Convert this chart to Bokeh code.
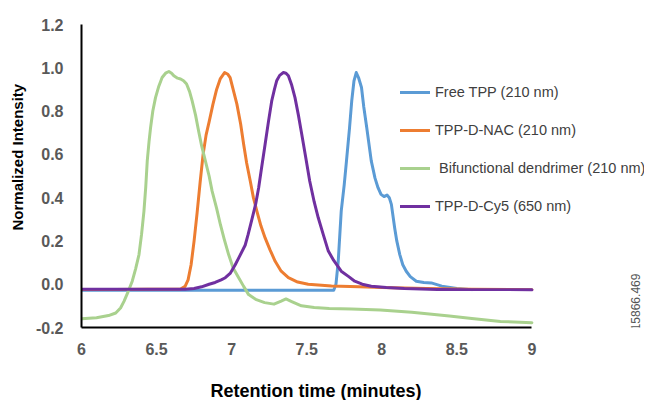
import math
from bokeh.plotting import figure
from bokeh.models import Range1d, FixedTicker, Legend, LegendItem, Label, Title
from bokeh.embed import file_html
from bokeh.resources import INLINE

# ---- data ----
tpp_x = [6.0, 7.68, 7.695, 7.71, 7.73, 7.75, 7.765, 7.785, 7.80, 7.815, 7.83, 7.845, 7.865, 7.88,
         7.90, 7.93, 7.955, 7.975, 7.995, 8.015, 8.035, 8.05, 8.064, 8.086, 8.10, 8.12, 8.14, 8.163,
         8.19, 8.23, 8.28, 8.33, 8.40, 8.50, 8.60]
tpp_y = [-0.028, -0.028, 0.0, 0.106, 0.338, 0.46, 0.57, 0.72, 0.847, 0.94, 0.978, 0.955, 0.909, 0.82,
         0.723, 0.57, 0.49, 0.446, 0.415, 0.405, 0.412, 0.40, 0.369, 0.26, 0.20, 0.137, 0.09, 0.06,
         0.035, 0.014, 0.008, 0.006, -0.009, -0.02, -0.025]

nac_x = [6.0, 6.66, 6.69, 6.71, 6.73, 6.75, 6.77, 6.79, 6.81, 6.83, 6.85, 6.875, 6.90, 6.925, 6.953,
         6.975, 6.99, 7.01, 7.035, 7.06, 7.08, 7.10, 7.124, 7.145, 7.168, 7.195, 7.223, 7.255, 7.29,
         7.33, 7.378, 7.44, 7.51, 7.665, 7.85, 8.0, 8.3, 8.6, 9.0]
nac_y = [-0.025, -0.022, -0.01, 0.02, 0.09, 0.20, 0.33, 0.47, 0.60, 0.69, 0.75, 0.83, 0.90, 0.95, 0.978,
         0.97, 0.955, 0.90, 0.832, 0.74, 0.647, 0.56, 0.477, 0.40, 0.338, 0.27, 0.214, 0.16, 0.106,
         0.06, 0.03, 0.01, 0.0, -0.008, -0.012, -0.015, -0.02, -0.023, -0.025]

den_x = [6.0, 6.1, 6.18, 6.228, 6.26, 6.283, 6.31, 6.338, 6.36, 6.383, 6.40, 6.416, 6.428, 6.438, 6.45,
         6.46, 6.475, 6.493, 6.515, 6.537, 6.56, 6.582, 6.60, 6.615, 6.64, 6.66, 6.68, 6.70, 6.72,
         6.737, 6.76, 6.78, 6.80, 6.825, 6.85, 6.87, 6.90, 6.925, 6.95, 6.98, 7.01, 7.047, 7.08,
         7.113, 7.16, 7.22, 7.282, 7.33, 7.362, 7.40, 7.465, 7.55, 7.65, 7.80, 7.99, 8.2, 8.45, 8.6,
         8.79, 9.0]
den_y = [-0.16, -0.155, -0.145, -0.133, -0.11, -0.079, -0.035, 0.014, 0.07, 0.137, 0.23, 0.338, 0.45,
         0.57, 0.66, 0.723, 0.80, 0.862, 0.915, 0.955, 0.975, 0.983, 0.975, 0.963, 0.952, 0.948, 0.94,
         0.925, 0.89, 0.847, 0.78, 0.708, 0.64, 0.57, 0.50, 0.43, 0.35, 0.276, 0.21, 0.137, 0.075,
         0.03, -0.01, -0.048, -0.07, -0.085, -0.092, -0.078, -0.068, -0.08, -0.1, -0.108, -0.112,
         -0.115, -0.119, -0.13, -0.147, -0.158, -0.172, -0.178]

cy5_x = [6.0, 6.69, 6.75, 6.80, 6.85, 6.89, 6.93, 6.958, 6.99, 7.024, 7.05, 7.09, 7.11, 7.135, 7.16,
         7.18, 7.20, 7.223, 7.245, 7.267, 7.285, 7.30, 7.32, 7.345, 7.362, 7.378, 7.40, 7.422, 7.445,
         7.467, 7.495, 7.52, 7.55, 7.577, 7.61, 7.644, 7.68, 7.73, 7.78, 7.82, 7.87, 7.93, 8.03, 8.15,
         8.37, 8.6, 9.0]
cy5_y = [-0.023, -0.023, -0.02, -0.012, 0.0, 0.008, 0.02, 0.03, 0.05, 0.09, 0.125, 0.18, 0.23, 0.30,
         0.37, 0.446, 0.54, 0.647, 0.75, 0.847, 0.90, 0.94, 0.965, 0.978, 0.975, 0.963, 0.92, 0.862,
         0.78, 0.693, 0.58, 0.477, 0.38, 0.307, 0.23, 0.153, 0.11, 0.06, 0.035, 0.014, 0.0, -0.009,
         -0.015, -0.02, -0.024, -0.025, -0.025]

series_names = ["Free TPP (210 nm)", "TPP-D-NAC (210 nm)", " Bifunctional dendrimer (210 nm)", "TPP-D-Cy5 (650 nm)"]
series_colors = ["#5B9BD5", "#ED7D31", "#A9D18E", "#7030A0"]

x_ticks = [6, 6.5, 7, 7.5, 8, 8.5, 9]
x_tick_labels = ["6", "6.5", "7", "7.5", "8", "8.5", "9"]
y_ticks = [-0.2, 0.0, 0.2, 0.4, 0.6, 0.8, 1.0, 1.2]
y_tick_labels = ["-0.2", "0.0", "0.2", "0.4", "0.6", "0.8", "1.0", "1.2"]

x_title = "Retention time (minutes)"
y_title = "Normalized Intensity"
stray_label = "15866.469"

FONT = "Liberation Sans"

# ---- figure ----
p = figure(width=644, height=400, output_backend="svg", toolbar_location=None,
           x_range=Range1d(6, 9.75), y_range=Range1d(-0.2, 1.2),
           min_border_left=79, min_border_right=0, min_border_top=24, min_border_bottom=73)
p.outline_line_color = None
p.grid.visible = False
p.background_fill_color = "white"
p.border_fill_color = "white"

for ax in (p.xaxis[0], p.yaxis[0]):
    ax.axis_line_color = "black"
    ax.axis_line_width = 2
    ax.major_tick_line_color = None
    ax.minor_tick_line_color = None
    ax.major_label_text_font = FONT
    ax.major_label_text_font_style = "bold"
    ax.major_label_text_font_size = "16px"
    ax.major_label_text_color = "#595959"

p.xaxis.ticker = FixedTicker(ticks=x_ticks)
p.xaxis.major_label_overrides = {t: l for t, l in zip(x_ticks, x_tick_labels)}
p.xaxis.bounds = (6, 9)
p.xaxis.major_label_standoff = 9

p.yaxis.ticker = FixedTicker(ticks=y_ticks)
p.yaxis.major_label_overrides = {t: l for t, l in zip(y_ticks, y_tick_labels)}
p.yaxis.bounds = (-0.2, 1.2)
p.yaxis.major_label_standoff = 12

renderers = []
for xs, ys, c in zip([tpp_x, nac_x, den_x, cy5_x], [tpp_y, nac_y, den_y, cy5_y], series_colors):
    r = p.line(xs, ys, line_color=c, line_width=3, line_join="round", line_cap="round")
    renderers.append(r)

legend = Legend(items=[LegendItem(label=n, renderers=[r]) for n, r in zip(series_names, renderers)],
                location=(319, 111), orientation="vertical",
                glyph_width=30, glyph_height=20, label_height=20, spacing=18,
                label_standoff=5, padding=0, margin=0,
                border_line_color=None, background_fill_alpha=0,
                label_text_font=FONT, label_text_font_size="14.5px",
                label_text_color="#404040")
p.add_layout(legend, "center")

# spacer between tick labels and the x title
p.add_layout(Title(text=" ", text_font=FONT, text_font_size="17px", standoff=0), "below")
p.add_layout(Title(text=x_title, align="left", offset=129, text_font=FONT, text_font_style="bold",
                   text_font_size="18px", text_color="black", standoff=0,
                   vertical_align="bottom"), "below")
p.add_layout(Title(text=y_title, align="left", offset=97, text_font=FONT, text_font_style="bold",
                   text_font_size="15px", text_color="black", standoff=13), "left")

p.add_layout(Label(x=9.69, y=-0.082, text=stray_label, text_font=FONT,
                   text_font_size="12px", text_color="#555555", text_align="center",
                   text_baseline="middle", angle=math.pi / 2))

open("out.html", "w").write(file_html(p, INLINE))
